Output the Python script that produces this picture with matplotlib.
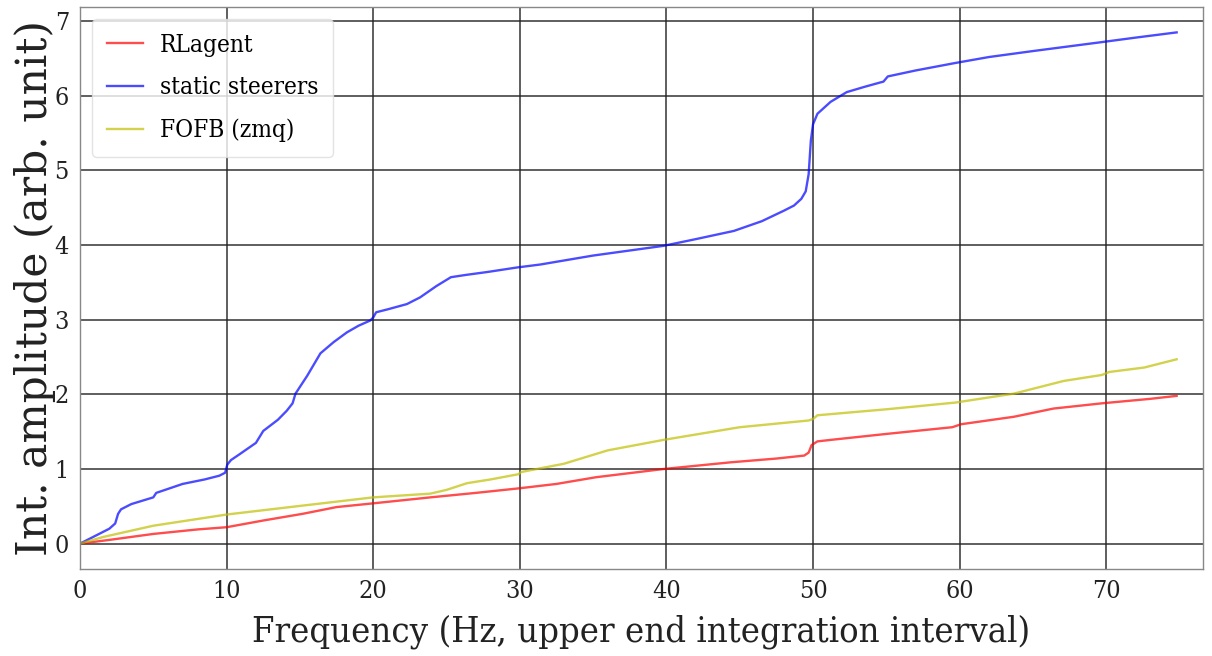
import matplotlib
matplotlib.use("Agg")
import matplotlib.pyplot as plt

# static steerers
f_static = [0, 1.0, 2.0, 2.4, 2.6, 2.8, 3.5, 5.0, 5.2, 7.0, 8.5, 9.5, 9.9, 10.05, 10.3,
            10.9, 12.0, 12.5, 13.5, 14.1, 14.5, 14.7, 15.5, 16.4, 17.3, 18.2, 19.0, 19.8,
            20.0, 20.2, 21.0, 22.3, 23.2, 24.3, 25.3, 26.3, 27.8, 29.8, 31.4, 35.0, 39.8,
            42.0, 44.6, 46.5, 48.0, 48.7, 49.2, 49.5, 49.7, 49.85, 50.0, 50.3, 51.2, 52.3,
            53.5, 54.6, 54.8, 55.1, 57.0, 59.7, 62.0, 65.0, 69.7, 72.0, 74.8]
v_static = [0, 0.1, 0.2, 0.27, 0.40, 0.46, 0.53, 0.62, 0.68, 0.80, 0.86, 0.91, 0.95, 1.06, 1.12,
            1.20, 1.35, 1.51, 1.66, 1.78, 1.88, 2.01, 2.25, 2.55, 2.70, 2.83, 2.92, 2.99,
            3.03, 3.10, 3.14, 3.21, 3.30, 3.45, 3.57, 3.60, 3.64, 3.70, 3.74, 3.86, 3.99,
            4.08, 4.19, 4.32, 4.46, 4.53, 4.62, 4.72, 4.95, 5.40, 5.62, 5.76, 5.92, 6.05,
            6.12, 6.18, 6.19, 6.26, 6.34, 6.44, 6.52, 6.60, 6.72, 6.78, 6.85]

# RLagent
f_rl = [0, 2.0, 5.0, 8.0, 10.0, 12.5, 15.2, 17.5, 20.0, 23.9, 27.0, 29.9, 32.5, 35.2,
        39.8, 44.4, 47.5, 49.4, 49.7, 49.9, 50.3, 51.2, 55.0, 59.5, 60.1, 63.7, 66.4,
        69.7, 73.0, 74.8]
v_rl = [0, 0.05, 0.13, 0.19, 0.22, 0.31, 0.40, 0.49, 0.54, 0.62, 0.68, 0.74, 0.80, 0.89,
        1.00, 1.09, 1.14, 1.18, 1.22, 1.32, 1.37, 1.39, 1.47, 1.56, 1.60, 1.70, 1.81,
        1.88, 1.94, 1.98]

# FOFB (zmq)
f_fofb = [0, 1.6, 5.0, 10.0, 15.2, 20.0, 23.9, 25.0, 26.4, 28.0, 29.9, 30.1, 33.0, 36.0,
          39.8, 45.0, 49.7, 50.0, 50.3, 55.0, 59.7, 63.7, 67.1, 69.7, 70.2, 72.6, 74.8]
v_fofb = [0, 0.09, 0.24, 0.39, 0.51, 0.62, 0.67, 0.72, 0.81, 0.86, 0.93, 0.96, 1.07, 1.25,
          1.39, 1.56, 1.65, 1.67, 1.72, 1.80, 1.89, 2.01, 2.18, 2.26, 2.30, 2.36, 2.47]

fig = plt.figure(figsize=(12.12, 6.56), dpi=100)
ax = fig.add_axes([0.066, 0.1326, 0.9266, 0.8567])

ax.plot(f_rl, v_rl, color='r', alpha=0.7, linewidth=1.7, label='RLagent')
ax.plot(f_static, v_static, color='b', alpha=0.7, linewidth=1.7, label='static steerers')
ax.plot(f_fofb, v_fofb, color='y', alpha=0.7, linewidth=1.7, label='FOFB (zmq)')

ax.set_xlim(0, 76.6)
ax.set_ylim(-0.34, 7.19)
ax.set_xticks(range(0, 80, 10))
ax.set_yticks(range(0, 8))

ax.grid(True, color='#222222', linewidth=1.2, alpha=0.85)
ax.set_axisbelow(True)
for s in ax.spines.values():
    s.set_color('#888888')
    s.set_linewidth(1.0)

ax.tick_params(length=0, pad=8)
for lab in ax.get_xticklabels() + ax.get_yticklabels():
    lab.set_family('DejaVu Serif')
    lab.set_fontstretch('condensed')
    lab.set_fontsize(18)
    lab.set_color('#222222')

ax.set_xlabel('Frequency (Hz, upper end integration interval)', family='DejaVu Serif',
              fontstretch='condensed', fontsize=26, color='#222222', labelpad=8)
ax.set_ylabel('Int. amplitude (arb. unit)', family='DejaVu Serif', fontsize=30.5,
              color='#222222', labelpad=-1)

leg = ax.legend(loc='upper left', frameon=True, fancybox=True,
                borderpad=0.6, labelspacing=0.8, handlelength=1.5, handletextpad=0.7,
                prop={'family': 'DejaVu Serif', 'stretch': 'condensed', 'size': 17.5})
leg.get_frame().set_edgecolor('#dddddd')

fig.savefig('out.png', dpi=100)
